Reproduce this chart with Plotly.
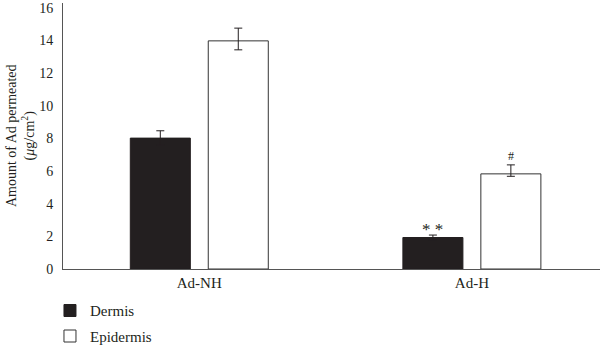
import plotly.graph_objects as go

categories = ["Ad-NH", "Ad-H"]
dermis = [8.02, 1.93]
dermis_err = [0.45, 0.15]
epidermis = [13.98, 5.83]
epidermis_err_up = [0.78, 0.55]
epidermis_err_down = [0.55, 0.15]
marks_dermis = ["", "* *"]
marks_epidermis = ["", "#"]
yticks = [0, 2, 4, 6, 8, 10, 12, 14, 16]
y_title = "Amount of Ad permeated<br>(<i>μ</i>g/cm<sup>2</sup>)"

FONT = "Liberation Serif"
INK = "#231f20"

fig = go.Figure()
fig.add_trace(go.Bar(
    x=categories, y=dermis, name="Dermis", legendgroup="d",
    marker=dict(color=INK, line=dict(color=INK, width=1)),
    error_y=dict(type="data", array=dermis_err, visible=True, color=INK, thickness=1, width=4),
))
fig.add_trace(go.Bar(
    x=categories, y=epidermis, name="Epidermis", legendgroup="e",
    marker=dict(color="white", line=dict(color="#333333", width=1)),
    error_y=dict(type="data", symmetric=False, array=epidermis_err_up,
                 arrayminus=epidermis_err_down, visible=True, color=INK, thickness=1, width=4),
))

for i, c in enumerate(categories):
    if marks_dermis[i]:
        fig.add_annotation(x=c, xshift=-39, y=dermis[i] + dermis_err[i], text=marks_dermis[i],
                           showarrow=False, yanchor="bottom", yshift=-6,
                           font=dict(family=FONT, size=17, color=INK))
    if marks_epidermis[i]:
        fig.add_annotation(x=c, xshift=39, y=epidermis[i] + epidermis_err_up[i], text=marks_epidermis[i],
                           showarrow=False, yanchor="bottom", yshift=0,
                           font=dict(family=FONT, size=12, color=INK))

# y-axis title as rotated annotation
fig.add_annotation(xref="paper", yref="paper", x=-0.078, y=0.5, text=y_title,
                   textangle=-90, showarrow=False, xanchor="center", yanchor="middle",
                   font=dict(family=FONT, size=14, color=INK))

fig.update_layout(
    width=600, height=347,
    margin=dict(l=63, r=0, t=3, b=78, autoexpand=False),
    paper_bgcolor="white", plot_bgcolor="white",
    barmode="group", bargap=0.428, bargroupgap=0.23,
    font=dict(family=FONT, size=15, color=INK),
    showlegend=True,
    legend=dict(xref="container", yref="container", x=0.0833, y=0.152,
                xanchor="left", yanchor="top", orientation="v",
                tracegroupgap=3, font=dict(family=FONT, size=15, color=INK),
                bgcolor="rgba(0,0,0,0)"),
    xaxis=dict(range=[-0.5, 1.47], showline=True, linecolor="#555555", linewidth=1,
               ticks="", showgrid=False, zeroline=False,
               tickfont=dict(family=FONT, size=15, color=INK)),
    yaxis=dict(range=[0, 16.3], tickvals=yticks, showline=True, linecolor="#555555", linewidth=1,
               ticks="", showgrid=False, zeroline=False, ticklabelstandoff=6,
               tickfont=dict(family=FONT, size=14, color=INK)),
)

fig.write_html("out.html")
